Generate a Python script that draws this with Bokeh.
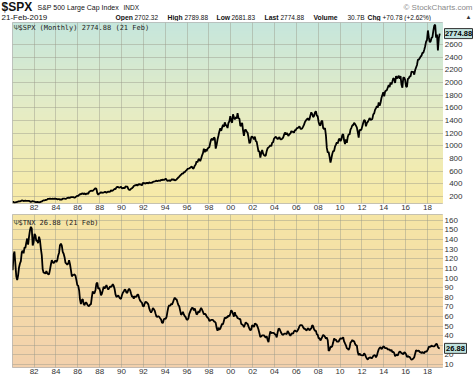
import numpy as np
import pandas as pd
from bokeh.plotting import figure
from bokeh.layouts import column, row
from bokeh.models import Range1d, FixedTicker, DatetimeTickFormatter, Label, Grid
from bokeh.core.properties import value
from bokeh.embed import file_html
from bokeh.resources import INLINE

# ---------------- data ----------------
start_month = "1980-01-01"
n_months = 470

spx_close = [
    114.16, 113.66, 102.09, 106.29, 111.24, 114.24, 121.67, 122.38, 125.46, 127.47, 140.52, 135.76,
    129.55, 131.27, 136.00, 132.81, 132.59, 131.21, 130.92, 122.79, 116.18, 121.89, 126.35, 122.55,
    120.40, 113.11, 111.96, 116.44, 111.88, 109.61, 107.09, 119.51, 120.42, 133.71, 138.54, 140.64,
    145.30, 148.06, 152.96, 164.42, 162.39, 168.11, 162.56, 164.40, 166.07, 163.55, 166.40, 164.93,
    163.41, 157.06, 159.18, 160.05, 150.55, 153.18, 150.66, 166.68, 166.10, 166.09, 163.58, 167.24,
    179.63, 181.18, 180.66, 179.83, 189.55, 191.85, 190.92, 188.63, 182.08, 189.82, 202.17, 211.28,
    211.78, 226.92, 238.90, 235.52, 247.35, 250.84, 236.12, 252.93, 231.32, 243.98, 249.22, 242.17,
    274.08, 284.20, 291.70, 288.36, 290.10, 304.00, 318.66, 329.80, 321.83, 251.79, 230.30, 247.08,
    257.07, 267.82, 258.89, 261.33, 262.16, 273.50, 272.02, 261.52, 271.91, 278.97, 273.70, 277.72,
    297.47, 288.86, 294.87, 309.64, 320.52, 317.98, 346.08, 351.45, 349.15, 340.36, 345.99, 353.40,
    329.08, 331.89, 339.94, 330.80, 361.23, 358.02, 356.15, 322.56, 306.05, 304.00, 322.22, 330.22,
    343.93, 367.07, 375.22, 375.35, 389.83, 371.16, 387.81, 395.43, 387.86, 392.45, 375.22, 417.09,
    408.79, 412.70, 403.69, 414.95, 415.35, 408.14, 424.21, 414.03, 417.80, 418.68, 431.35, 435.71,
    438.78, 443.38, 451.67, 440.19, 450.19, 450.53, 448.13, 463.56, 458.93, 467.83, 461.79, 466.45,
    481.61, 467.14, 445.77, 450.91, 456.50, 444.27, 458.26, 475.49, 462.69, 472.35, 453.69, 459.27,
    470.42, 487.39, 500.71, 514.71, 533.40, 544.75, 562.06, 561.88, 584.41, 581.50, 605.37, 615.93,
    636.02, 640.43, 645.50, 654.17, 669.12, 670.63, 639.95, 651.99, 687.33, 705.27, 757.02, 740.74,
    786.16, 790.82, 757.12, 801.34, 848.28, 885.14, 954.31, 899.47, 947.28, 914.62, 955.40, 970.43,
    980.28, 1049.34, 1101.75, 1111.75, 1090.82, 1133.84, 1120.67, 957.28, 1017.01, 1098.67, 1163.63, 1229.23,
    1279.64, 1238.33, 1286.37, 1335.18, 1301.84, 1372.71, 1328.72, 1320.41, 1282.71, 1362.93, 1388.91, 1469.25,
    1394.46, 1366.42, 1498.58, 1452.43, 1420.60, 1454.60, 1430.83, 1517.68, 1436.51, 1429.40, 1314.95, 1320.28,
    1366.01, 1239.94, 1160.33, 1249.46, 1255.82, 1224.42, 1211.23, 1133.58, 1040.94, 1059.78, 1139.45, 1148.08,
    1130.20, 1106.73, 1147.39, 1076.92, 1067.14, 989.82, 911.62, 916.07, 815.28, 885.76, 936.31, 879.82,
    855.70, 841.15, 848.18, 916.92, 963.59, 974.50, 990.31, 1008.01, 995.97, 1050.71, 1058.20, 1111.92,
    1131.13, 1144.94, 1126.21, 1107.30, 1120.68, 1140.84, 1101.72, 1104.24, 1114.58, 1130.20, 1173.82, 1211.92,
    1181.27, 1203.60, 1180.59, 1156.85, 1191.50, 1191.33, 1234.18, 1220.33, 1228.81, 1207.01, 1249.48, 1248.29,
    1280.08, 1280.66, 1294.87, 1310.61, 1270.09, 1270.20, 1276.66, 1303.82, 1335.85, 1377.94, 1400.63, 1418.30,
    1438.24, 1406.82, 1420.86, 1482.37, 1530.62, 1503.35, 1455.27, 1473.99, 1526.75, 1549.38, 1481.14, 1468.36,
    1378.55, 1330.63, 1322.70, 1385.59, 1400.38, 1280.00, 1267.38, 1282.83, 1166.36, 968.75, 896.24, 903.25,
    825.88, 735.09, 797.87, 872.81, 919.14, 919.32, 987.48, 1020.62, 1057.08, 1036.19, 1095.63, 1115.10,
    1073.87, 1104.49, 1169.43, 1186.69, 1089.41, 1030.71, 1101.60, 1049.33, 1141.20, 1183.26, 1180.55, 1257.64,
    1286.12, 1327.22, 1325.83, 1363.61, 1345.20, 1320.64, 1292.28, 1218.89, 1131.42, 1253.30, 1246.96, 1257.60,
    1312.41, 1365.68, 1408.47, 1397.91, 1310.33, 1362.16, 1379.32, 1406.58, 1440.67, 1412.16, 1416.18, 1426.19,
    1498.11, 1514.68, 1569.19, 1597.57, 1630.74, 1606.28, 1685.73, 1632.97, 1681.55, 1756.54, 1805.81, 1848.36,
    1782.59, 1859.45, 1872.34, 1883.95, 1923.57, 1960.23, 1930.67, 2003.37, 1972.29, 2018.05, 2067.56, 2058.90,
    1994.99, 2104.50, 2067.89, 2085.51, 2107.39, 2063.11, 2103.84, 1972.18, 1920.03, 2079.36, 2080.41, 2043.94,
    1940.24, 1932.23, 2059.74, 2065.30, 2096.95, 2098.86, 2173.60, 2170.95, 2168.27, 2126.15, 2198.81, 2238.83,
    2278.87, 2363.64, 2362.72, 2384.20, 2411.80, 2423.41, 2470.30, 2471.65, 2519.36, 2575.26, 2647.58, 2673.61,
    2823.81, 2713.83, 2640.87, 2648.05, 2705.27, 2718.37, 2816.29, 2901.52, 2913.98, 2711.74, 2760.17, 2506.85,
    2704.10, 2774.88,
]

tnx_close = [
    108.0, 124.1, 127.5, 114.7, 101.8, 97.8, 102.5, 111.0, 115.1, 117.5, 126.8, 128.4,
    125.7, 131.9, 131.2, 136.8, 141.0, 134.7, 142.8, 149.4, 153.2, 151.5, 133.9, 137.2,
    145.9, 144.3, 138.6, 138.7, 136.2, 143.0, 139.5, 130.6, 123.4, 109.1, 105.5, 105.4,
    104.6, 107.2, 105.1, 104.0, 103.8, 108.5, 113.8, 118.5, 116.5, 115.4, 116.9, 118.3,
    116.7, 118.4, 123.2, 126.3, 134.1, 135.6, 133.6, 127.2, 125.2, 121.6, 115.7, 115.0,
    113.8, 115.1, 118.6, 114.3, 108.5, 101.6, 103.1, 103.3, 103.7, 102.4, 97.8, 92.6,
    91.9, 87.0, 77.8, 73.0, 77.1, 78.0, 73.0, 71.7, 74.5, 74.3, 72.5, 71.1,
    70.8, 72.5, 72.5, 80.2, 86.1, 84.0, 84.5, 87.6, 94.2, 95.2, 88.6, 89.9,
    86.7, 82.1, 83.7, 87.2, 90.9, 89.2, 90.6, 92.6, 89.8, 88.0, 89.6, 91.1,
    90.9, 91.7, 93.6, 91.8, 88.6, 82.8, 80.2, 81.1, 81.9, 80.1, 78.7, 78.4,
    82.1, 84.7, 85.9, 87.9, 87.6, 84.8, 84.7, 87.5, 88.9, 87.2, 83.9, 80.8,
    80.9, 78.5, 81.1, 80.4, 80.7, 82.8, 82.7, 79.0, 76.5, 75.3, 74.2, 70.9,
    70.3, 73.4, 75.4, 74.8, 73.9, 72.6, 68.4, 65.9, 64.2, 65.9, 68.7, 67.7,
    66.0, 62.6, 59.8, 59.7, 60.4, 59.6, 58.1, 56.8, 53.6, 53.3, 57.2, 57.7,
    57.5, 59.7, 64.8, 69.7, 71.8, 71.0, 73.0, 72.4, 74.6, 77.4, 79.6, 78.1,
    77.8, 74.7, 72.0, 70.6, 66.3, 61.7, 62.8, 64.9, 62.0, 60.4, 59.3, 57.1,
    56.5, 58.1, 62.7, 65.1, 67.4, 69.1, 68.7, 66.4, 68.3, 65.3, 62.0, 63.0,
    65.8, 64.2, 66.9, 68.9, 67.1, 64.9, 62.2, 63.0, 62.1, 60.3, 58.8, 58.1,
    55.4, 55.7, 56.5, 56.4, 56.5, 55.0, 54.6, 53.4, 48.1, 45.3, 48.3, 46.5,
    47.2, 50.0, 52.3, 51.8, 55.4, 59.0, 57.9, 59.4, 59.2, 61.1, 60.3, 62.8,
    66.6, 65.2, 62.6, 59.9, 64.4, 61.0, 60.5, 58.3, 58.0, 57.4, 57.2, 52.4,
    51.6, 51.0, 48.9, 51.4, 53.9, 52.8, 52.4, 49.7, 47.3, 45.7, 46.5, 50.9,
    50.4, 49.1, 52.8, 52.1, 51.6, 49.3, 46.5, 42.6, 38.7, 39.4, 40.5, 40.3,
    40.5, 39.0, 38.1, 39.6, 35.7, 33.3, 39.8, 44.5, 42.7, 42.9, 43.0, 42.7,
    41.5, 40.8, 38.3, 43.5, 47.2, 47.3, 45.0, 42.8, 41.3, 41.0, 41.9, 42.3,
    42.2, 41.7, 45.0, 43.4, 41.4, 40.0, 41.8, 42.6, 42.0, 44.6, 45.4, 44.7,
    44.2, 45.7, 47.2, 49.9, 51.1, 51.1, 50.9, 48.8, 47.2, 47.3, 46.0, 45.6,
    47.6, 47.2, 45.6, 46.9, 47.5, 51.0, 50.0, 46.7, 45.2, 45.3, 41.5, 41.0,
    37.4, 37.4, 35.1, 36.8, 38.8, 41.0, 40.1, 38.9, 36.9, 38.1, 35.3, 24.2,
    25.2, 28.7, 28.2, 29.3, 32.9, 37.2, 35.6, 35.9, 34.0, 33.9, 34.0, 35.9,
    37.3, 36.9, 37.3, 38.5, 34.2, 32.0, 30.1, 27.0, 26.5, 25.4, 27.6, 32.9,
    33.9, 35.8, 34.1, 34.6, 31.7, 30.0, 30.0, 23.0, 19.8, 21.5, 20.1, 19.8,
    19.7, 19.7, 21.7, 20.5, 18.0, 16.2, 15.3, 16.8, 17.2, 17.5, 16.5, 17.2,
    19.1, 19.8, 19.6, 17.6, 19.3, 23.0, 25.8, 27.4, 28.1, 26.2, 27.2, 29.0,
    28.6, 27.1, 27.2, 27.1, 25.6, 26.0, 25.4, 24.2, 25.3, 23.0, 23.3, 22.1,
    18.8, 19.8, 20.4, 19.4, 22.0, 23.6, 23.2, 21.7, 21.7, 20.7, 22.6, 22.4,
    20.9, 17.8, 18.9, 18.1, 18.1, 16.4, 15.0, 15.6, 16.3, 17.6, 21.4, 24.9,
    24.3, 24.2, 24.8, 23.0, 23.0, 21.9, 23.2, 22.1, 22.0, 23.6, 23.5, 24.0,
    25.8, 28.6, 28.4, 28.7, 29.8, 29.1, 28.9, 28.9, 30.0, 31.5, 31.2, 28.3,
    27.1, 26.88,
]

x_tick_years = [1982, 1984, 1986, 1988, 1990, 1992, 1994, 1996, 1998, 2000,
                2002, 2004, 2006, 2008, 2010, 2012, 2014, 2016, 2018]
spx_ticks = [200, 400, 600, 800, 1000, 1200, 1400, 1600, 1800, 2000, 2200, 2400, 2600]
spx_tick_labels = [str(t) for t in spx_ticks]
tnx_ticks = [10, 20, 30, 40, 50, 60, 70, 80, 90, 100, 110, 120, 130, 140, 150, 160]
tnx_tick_labels = [str(t) for t in tnx_ticks]

spx_last = 2774.88
tnx_last = 26.88
spx_last_label = "2774.88"
tnx_last_label = "26.88"
spx_range = (90, 2950)
tnx_range = (7, 166)

# ---------------- helpers ----------------
def ms(ts):
    return pd.Timestamp(ts).value / 1e6

dates = pd.date_range(start_month, periods=n_months, freq="MS") + pd.Timedelta(days=14)
x_start = ms("1980-01-10")
x_end = ms("2019-06-20")
x_ticks = [ms(f"{y}-01-01") for y in x_tick_years]

W_MAIN = 443
W_STRIP = 31
W = W_MAIN + W_STRIP
FONT = "Liberation Sans"
MONO = "DejaVu Sans Mono"


def gradient_image(top_rgb, mid_rgb, bot_rgb, n=120):
    img = np.empty((n, 1), dtype=np.uint32)
    view = img.view(dtype=np.uint8).reshape((n, 1, 4))
    for i in range(n):
        t = i / (n - 1)  # 0 bottom -> 1 top
        if t < 0.5:
            a, b, f = bot_rgb, mid_rgb, t / 0.5
        else:
            a, b, f = mid_rgb, top_rgb, (t - 0.5) / 0.5
        for k in range(3):
            view[i, 0, k] = int(round(a[k] + (b[k] - a[k]) * f))
        view[i, 0, 3] = 255
    return img


def main_panel(height, yr, yticks, top, bottom):
    p = figure(width=W_MAIN, height=height, x_axis_type="datetime",
               x_range=Range1d(x_start, x_end), y_range=Range1d(*yr),
               y_axis_location=None, toolbar_location=None, output_backend="svg",
               min_border_top=top, min_border_left=12, min_border_right=0,
               min_border_bottom=bottom)
    p.outline_line_color = "#b5b5b5"
    p.background_fill_color = "white"
    p.border_fill_color = "white"
    ax = p.xaxis[0]
    ax.axis_line_color = None
    ax.major_tick_line_color = None
    ax.minor_tick_line_color = None
    ax.major_tick_out = 0
    ax.major_tick_in = 0
    ax.minor_tick_out = 0
    ax.minor_tick_in = 0
    ax.major_label_standoff = 1
    ax.major_label_text_font = FONT
    ax.major_label_text_font_size = "8px"
    ax.major_label_text_color = "#333333"
    ax.ticker = FixedTicker(ticks=x_ticks)
    fmt = "%y"
    ax.formatter = DatetimeTickFormatter(
        microseconds=fmt, milliseconds=fmt, seconds=fmt, minsec=fmt, minutes=fmt,
        hourmin=fmt, hours=fmt, days=fmt, months=fmt, years=fmt)
    for g in p.xgrid:
        g.ticker = FixedTicker(ticks=x_ticks)
        g.grid_line_color = "#9a9a8a"
        g.grid_line_alpha = 0.45
    for g in p.ygrid:
        g.visible = False
    p.add_layout(Grid(dimension=1, ticker=FixedTicker(ticks=yticks),
                      grid_line_color="#9a9a8a", grid_line_alpha=0.45))
    return p


def strip_panel(height, yrange, top, bottom):
    s = figure(width=W_STRIP, height=height, x_range=Range1d(0, W_STRIP), y_range=yrange,
               x_axis_location=None, y_axis_location=None, toolbar_location=None,
               output_backend="svg", min_border_top=top, min_border_bottom=bottom,
               min_border_left=0, min_border_right=0)
    s.outline_line_color = None
    s.background_fill_color = "white"
    s.border_fill_color = "white"
    for g in s.grid:
        g.visible = False
    return s


def value_box(s, yval, label, box_w):
    cx = 1 + box_w / 2.0
    s.rect(x=[cx], y=[yval], width=[box_w], height=[10], height_units="screen",
           fill_color="#bfe2de", line_color="#333333", line_width=1)
    s.text(x=[cx], y=[yval], text=[label], text_font=value(FONT),
           text_font_size="7.5px", text_font_style="bold", text_color="black",
           text_align="center", text_baseline="middle")


# ---------------- header ----------------
h = figure(width=W, height=21, x_range=Range1d(0, W), y_range=Range1d(21, 0),
           x_axis_location=None, y_axis_location=None,
           toolbar_location=None, output_backend="svg", min_border=0)
for g in h.grid:
    g.visible = False
h.outline_line_color = None
h.border_fill_color = "white"
h.background_fill_color = "white"

def hl(x, y, text, size="7px", bold=False, color="#111111", align="left", font=FONT):
    h.add_layout(Label(x=x, y=y, text=text, text_font=font, text_font_size=size,
                       text_font_style="bold" if bold else "normal",
                       text_color=color, text_align=align, text_baseline="middle"))

hl(1, 6, "$SPX", size="12px", bold=True)
hl(37, 6.5, "S&P 500 Large Cap Index", size="7px")
hl(123, 6.5, "INDX", size="6.5px")
hl(472, 6.5, "© StockCharts.com", size="8px", color="#8a8a8a", align="right")
hl(1, 16.5, "21-Feb-2019", size="8px")
hl(115, 16.5, "Open", size="6.8px", bold=True)
hl(134, 16.5, "2702.32", size="6.5px")
hl(167, 16.5, "High", size="6.8px", bold=True)
hl(184, 16.5, "2789.88", size="6.5px")
hl(216, 16.5, "Low", size="6.8px", bold=True)
hl(231, 16.5, "2681.83", size="6.5px")
hl(264, 16.5, "Last", size="6.8px", bold=True)
hl(280, 16.5, "2774.88", size="6.5px")
hl(313, 16.5, "Volume", size="6.8px", bold=True)
hl(347, 16.5, "30.7B", size="6.5px")
hl(367, 16.5, "Chg", size="6.8px", bold=True)
hl(382, 16.5, "+70.78 (+2.62%)", size="6.5px")
hl(465, 16.5, "▲", size="6px", color="#333333")

# ---------------- top panel: $SPX ----------------
p1 = main_panel(193, spx_range, spx_ticks, top=1, bottom=11)
r = p1.image_rgba(image=[gradient_image((198, 230, 220), (230, 236, 196), (248, 234, 166))],
                  x=x_start, y=spx_range[0], dw=x_end - x_start, dh=spx_range[1] - spx_range[0])
r.level = "image"
p1.line(dates, spx_close, line_color="black", line_width=1.8)
p1.add_layout(Label(x=x_start, y=spx_range[1], x_offset=1, y_offset=-1, text="Ψ",
                    text_font=FONT, text_font_size="7px", text_color="#4a5a40",
                    text_baseline="top"))
p1.add_layout(Label(x=x_start, y=spx_range[1], x_offset=6, y_offset=-1,
                    text="$SPX (Monthly) 2774.88 (21 Feb)", text_font=MONO,
                    text_font_size="7px", text_color="#222222", text_baseline="top"))

s1 = strip_panel(193, p1.y_range, top=1, bottom=11)
s1.text(x=[19] * len(spx_ticks), y=spx_ticks, text=spx_tick_labels,
        text_font=value(FONT), text_font_size="8px", text_color="#333333",
        text_align="right", text_baseline="middle")
value_box(s1, spx_last, spx_last_label, 28)

# ---------------- bottom panel: $TNX ----------------
p2 = main_panel(165, tnx_range, tnx_ticks, top=0, bottom=12)
p2.x_range = p1.x_range
r2 = p2.image_rgba(image=[gradient_image((245, 229, 165), (244, 220, 168), (242, 208, 172))],
                   x=x_start, y=tnx_range[0], dw=x_end - x_start, dh=tnx_range[1] - tnx_range[0])
r2.level = "image"
p2.line(dates, tnx_close, line_color="black", line_width=1.8)
p2.add_layout(Label(x=x_start, y=tnx_range[1], x_offset=1, y_offset=-4, text="Ψ",
                    text_font=FONT, text_font_size="7px", text_color="#4a5a40",
                    text_baseline="top"))
p2.add_layout(Label(x=x_start, y=tnx_range[1], x_offset=6, y_offset=-4,
                    text="$TNX 26.88 (21 Feb)", text_font=MONO,
                    text_font_size="7px", text_color="#222222", text_baseline="top"))

s2 = strip_panel(165, p2.y_range, top=0, bottom=12)
s2.text(x=[1] * len(tnx_ticks), y=tnx_ticks, text=tnx_tick_labels,
        text_font=value(FONT), text_font_size="8px", text_color="#333333",
        text_align="left", text_baseline="middle")
value_box(s2, tnx_last, tnx_last_label, 22)

layout = column(h, row(p1, s1, spacing=0), row(p2, s2, spacing=0), spacing=0)
open("out.html", "w").write(file_html(layout, INLINE))
